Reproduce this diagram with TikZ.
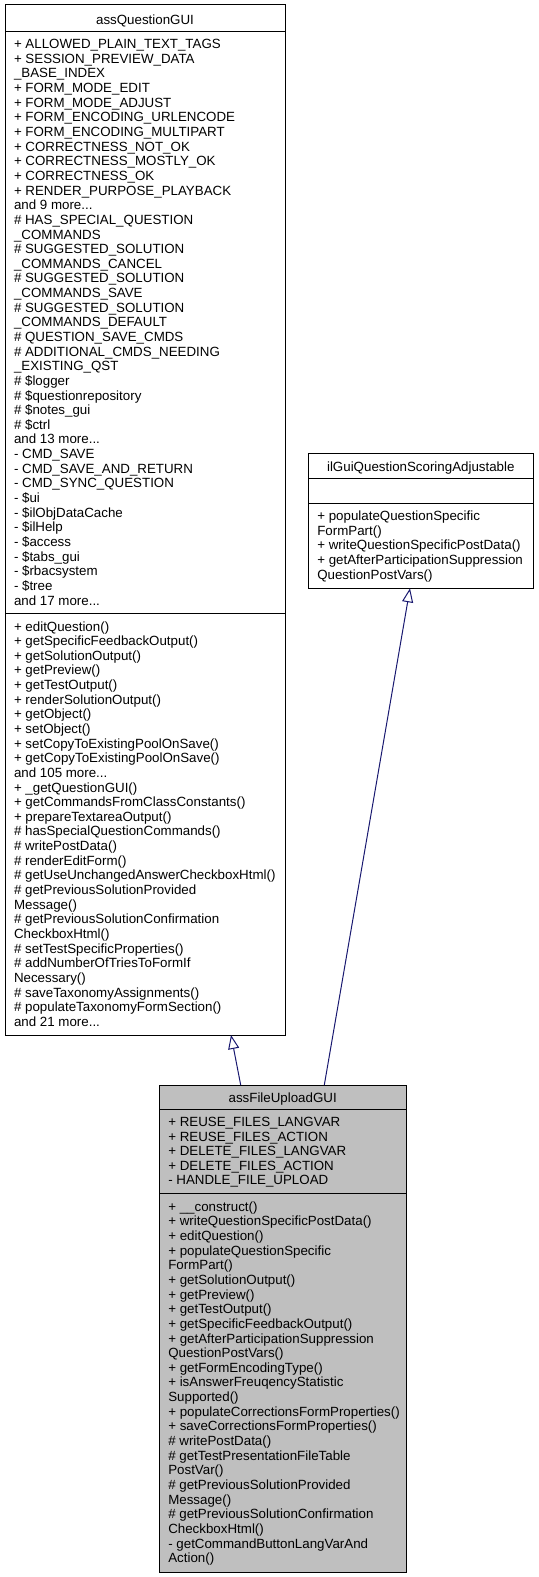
\documentclass[tikz,border=0pt]{standalone}
\usepackage{fontspec}
\setmainfont{Liberation Sans}
\usetikzlibrary{arrows.meta}
\definecolor{edgeblue}{HTML}{191970}
\definecolor{boxgray}{HTML}{BFBFBF}
\newcommand{\umlfont}{\fontsize{13.33bp}{14.64bp}\selectfont}
\newcommand{\umlrows}[1]{\vtop{\umlfont\halign{##\hfil\cr#1\crcr}}}
\begin{document}
\begin{tikzpicture}[x=1bp, y=-1bp, line width=1bp,
  umlbox/.style={draw=black, rectangle, anchor=north west, inner sep=0, outer sep=0},
  rows/.style={anchor=base west, inner sep=0, outer sep=0},
  title/.style={anchor=base, inner sep=0, outer sep=0, font=\umlfont},
  inherit/.style={draw=edgeblue, line width=1bp, -{Triangle[open, length=14bp, width=11bp]}}]

\useasboundingbox (0,0) rectangle (539,1577);

% ---------- assQuestionGUI ----------
\node[umlbox, minimum width=280bp, minimum height=1030bp] (qgui) at (5,5) {};
\node[title] (qguiT) at (145,24.5) {assQuestionGUI};
\draw ([yshift=-26.5bp]qgui.north west) -- ([yshift=-26.5bp]qgui.north east);
\draw ([yshift=-608.5bp]qgui.north west) -- ([yshift=-608.5bp]qgui.north east);
\node[rows] (qguiA) at (14,48.7) {\umlrows{%
+ ALLOWED\_PLAIN\_TEXT\_TAGS\cr
+ SESSION\_PREVIEW\_DATA\cr
\_BASE\_INDEX\cr
+ FORM\_MODE\_EDIT\cr
+ FORM\_MODE\_ADJUST\cr
+ FORM\_ENCODING\_URLENCODE\cr
+ FORM\_ENCODING\_MULTIPART\cr
+ CORRECTNESS\_NOT\_OK\cr
+ CORRECTNESS\_MOSTLY\_OK\cr
+ CORRECTNESS\_OK\cr
+ RENDER\_PURPOSE\_PLAYBACK\cr
and 9 more...\cr
\# HAS\_SPECIAL\_QUESTION\cr
\_COMMANDS\cr
\# SUGGESTED\_SOLUTION\cr
\_COMMANDS\_CANCEL\cr
\# SUGGESTED\_SOLUTION\cr
\_COMMANDS\_SAVE\cr
\# SUGGESTED\_SOLUTION\cr
\_COMMANDS\_DEFAULT\cr
\# QUESTION\_SAVE\_CMDS\cr
\# ADDITIONAL\_CMDS\_NEEDING\cr
\_EXISTING\_QST\cr
\# \$logger\cr
\# \$questionrepository\cr
\# \$notes\_gui\cr
\# \$ctrl\cr
and 13 more...\cr
- CMD\_SAVE\cr
- CMD\_SAVE\_AND\_RETURN\cr
- CMD\_SYNC\_QUESTION\cr
- \$ui\cr
- \$ilObjDataCache\cr
- \$ilHelp\cr
- \$access\cr
- \$tabs\_gui\cr
- \$rbacsystem\cr
- \$tree\cr
and 17 more...}};
\node[rows] (qguiM) at (14,631) {\umlrows{%
+ editQuestion()\cr
+ getSpecificFeedbackOutput()\cr
+ getSolutionOutput()\cr
+ getPreview()\cr
+ getTestOutput()\cr
+ renderSolutionOutput()\cr
+ getObject()\cr
+ setObject()\cr
+ setCopyToExistingPoolOnSave()\cr
+ getCopyToExistingPoolOnSave()\cr
and 105 more...\cr
+ \_getQuestionGUI()\cr
+ getCommandsFromClassConstants()\cr
+ prepareTextareaOutput()\cr
\# hasSpecialQuestionCommands()\cr
\# writePostData()\cr
\# renderEditForm()\cr
\# getUseUnchangedAnswerCheckboxHtml()\cr
\# getPreviousSolutionProvided\cr
Message()\cr
\# getPreviousSolutionConfirmation\cr
CheckboxHtml()\cr
\# setTestSpecificProperties()\cr
\# addNumberOfTriesToFormIf\cr
Necessary()\cr
\# saveTaxonomyAssignments()\cr
\# populateTaxonomyFormSection()\cr
and 21 more...}};

% ---------- ilGuiQuestionScoringAdjustable ----------
\node[umlbox, minimum width=225bp, minimum height=135.3bp] (ifc) at (308.3,453) {};
\node[title] (ifcT) at (420.8,471) {ilGuiQuestionScoringAdjustable};
\draw ([yshift=-25bp]ifc.north west) -- ([yshift=-25bp]ifc.north east);
\draw ([yshift=-50bp]ifc.north west) -- ([yshift=-50bp]ifc.north east);
\node[rows] (ifcM) at (317.3,520.7) {\umlrows{%
+ populateQuestionSpecific\cr
FormPart()\cr
+ writeQuestionSpecificPostData()\cr
+ getAfterParticipationSuppression\cr
QuestionPostVars()}};

% ---------- assFileUploadGUI ----------
\node[umlbox, fill=boxgray, minimum width=246.7bp, minimum height=487bp] (fu) at (159.3,1085) {};
\node[title] (fuT) at (282.7,1102) {assFileUploadGUI};
\draw ([yshift=-24.3bp]fu.north west) -- ([yshift=-24.3bp]fu.north east);
\draw ([yshift=-108.3bp]fu.north west) -- ([yshift=-108.3bp]fu.north east);
\node[rows] (fuA) at (168.3,1126.4) {\umlrows{%
+ REUSE\_FILES\_LANGVAR\cr
+ REUSE\_FILES\_ACTION\cr
+ DELETE\_FILES\_LANGVAR\cr
+ DELETE\_FILES\_ACTION\cr
- HANDLE\_FILE\_UPLOAD}};
\node[rows] (fuM) at (168.3,1211.3) {\umlrows{%
+ \_\_construct()\cr
+ writeQuestionSpecificPostData()\cr
+ editQuestion()\cr
+ populateQuestionSpecific\cr
FormPart()\cr
+ getSolutionOutput()\cr
+ getPreview()\cr
+ getTestOutput()\cr
+ getSpecificFeedbackOutput()\cr
+ getAfterParticipationSuppression\cr
QuestionPostVars()\cr
+ getFormEncodingType()\cr
+ isAnswerFreuqencyStatistic\cr
Supported()\cr
+ populateCorrectionsFormProperties()\cr
+ saveCorrectionsFormProperties()\cr
\# writePostData()\cr
\# getTestPresentationFileTable\cr
PostVar()\cr
\# getPreviousSolutionProvided\cr
Message()\cr
\# getPreviousSolutionConfirmation\cr
CheckboxHtml()\cr
- getCommandButtonLangVarAnd\cr
Action()}};

% ---------- inheritance edges ----------
\draw[inherit] ([xshift=81.4bp]fu.north west) -- ([xshift=226bp]qgui.south west);
\draw[inherit] ([xshift=165bp]fu.north west) -- ([xshift=101.7bp]ifc.south west);
\end{tikzpicture}
\end{document}
